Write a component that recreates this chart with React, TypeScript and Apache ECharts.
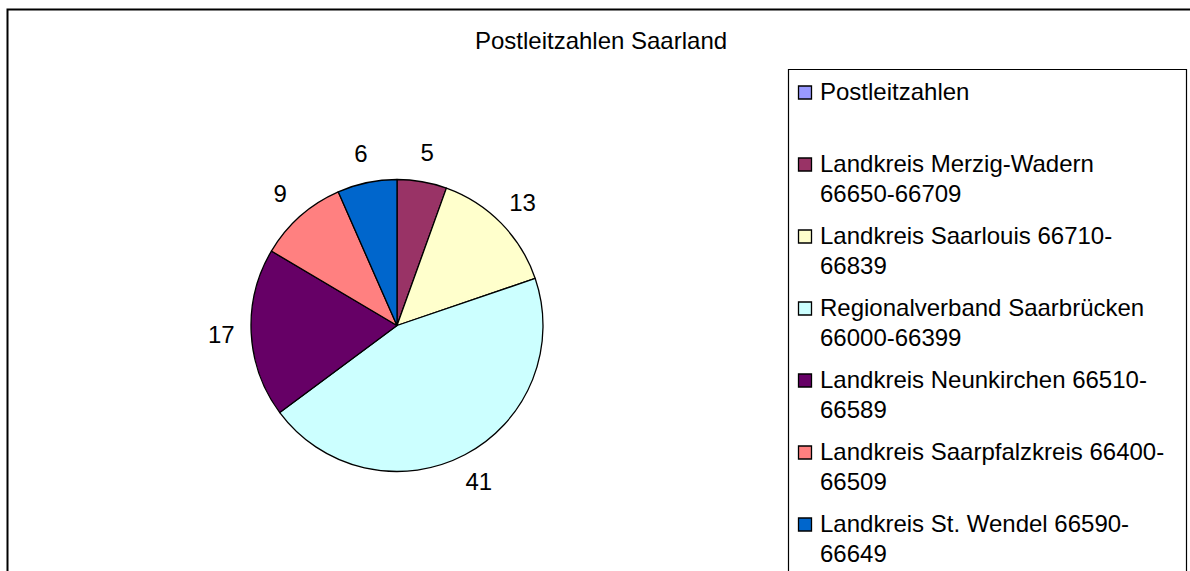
import React, { useEffect, useRef } from "react";
import * as echarts from "echarts";

const chartTitle = "Postleitzahlen Saarland";
const categories = [
  "Postleitzahlen",
  "Landkreis Merzig-Wadern\n66650-66709",
  "Landkreis Saarlouis 66710-\n66839",
  "Regionalverband Saarbrücken\n66000-66399",
  "Landkreis Neunkirchen 66510-\n66589",
  "Landkreis Saarpfalzkreis 66400-\n66509",
  "Landkreis St. Wendel 66590-\n66649",
];
const values: (number | null)[] = [null, 5, 13, 41, 17, 9, 6];
const colors = ["#9999FF", "#993366", "#FFFFCC", "#CCFFFF", "#660066", "#FF8080", "#0066CC"];

export default function App() {
  const ref = useRef<HTMLDivElement>(null);
  useEffect(() => {
    const chart = echarts.init(ref.current!, null, { renderer: "svg" });
    const font = "'Liberation Sans', Arial, sans-serif";
    const pieData = categories
      .map((name, i) => ({ name, value: values[i], itemStyle: { color: colors[i] } }))
      .filter((d) => d.value != null);
    const legendTop = 91.5;
    const legendStep = 72;
    const legendGraphics: any[] = [];
    categories.forEach((name, i) => {
      const cy = legendTop + i * legendStep;
      legendGraphics.push({
        type: "rect",
        shape: { x: 798.5, y: cy - 5.5, width: 13, height: 13 },
        style: { fill: colors[i], stroke: "#000", lineWidth: 1.3 },
        silent: true,
      });
      legendGraphics.push({
        type: "text",
        x: 820,
        y: cy - 15,
        style: {
          text: name,
          fontSize: 24,
          fontFamily: font,
          fill: "#000",
          lineHeight: 30,
          align: "left",
          verticalAlign: "top",
        },
        silent: true,
      });
    });
    chart.setOption({
      animation: false,
      backgroundColor: "#fff",
      title: {
        text: chartTitle,
        left: 601,
        top: 28,
        padding: 0,
        textAlign: "center",
        textStyle: { fontSize: 24, fontWeight: "normal", color: "#000", fontFamily: font },
      },
      graphic: [
        {
          type: "rect",
          shape: { x: 7.5, y: 9.5, width: 1400, height: 800 },
          style: { fill: "none", stroke: "#000", lineWidth: 2 },
          silent: true,
        },
        {
          type: "rect",
          shape: { x: 788.5, y: 69.5, width: 398, height: 700 },
          style: { fill: "none", stroke: "#000", lineWidth: 1.2 },
          silent: true,
        },
        ...legendGraphics,
      ],
      series: [
        {
          type: "pie",
          center: [397, 325.5],
          radius: 146,
          startAngle: 90,
          clockwise: true,
          data: pieData,
          label: { show: false },
          labelLine: { show: false },
          itemStyle: { borderColor: "#000", borderWidth: 1.3 },
          emphasis: { disabled: true },
          silent: true,
        },
        {
          type: "pie",
          center: [397, 325.5],
          radius: [146, 200],
          startAngle: 90,
          clockwise: true,
          data: pieData.map((d) => ({ name: d.name, value: d.value })),
          itemStyle: { color: "rgba(0,0,0,0)", borderWidth: 0 },
          label: {
            show: true,
            position: "inside",
            formatter: "{c}",
            fontSize: 24,
            color: "#000",
            fontFamily: font,
          },
          labelLine: { show: false },
          emphasis: { disabled: true },
          silent: true,
        },
      ],
    });
    return () => chart.dispose();
  }, []);
  return (
    <div
      ref={ref}
      style={{ position: "fixed", left: 0, top: 0, width: 1190, height: 571 }}
    />
  );
}
